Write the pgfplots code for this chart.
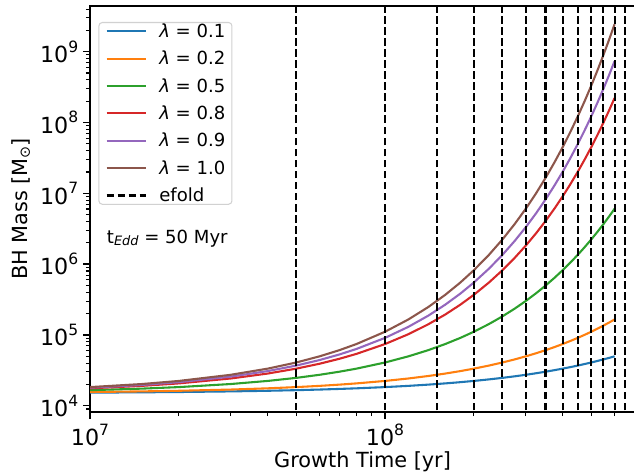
\documentclass[border=0pt]{standalone}
\usepackage{pgfplots}
\pgfplotsset{compat=1.18}
\usepackage{pgfplotstable}
\usepackage{fontspec}
\setmainfont{DejaVu Sans}
\definecolor{tabblue}{HTML}{1F77B4}
\definecolor{taborange}{HTML}{FF7F0E}
\definecolor{tabgreen}{HTML}{2CA02C}
\definecolor{tabred}{HTML}{D62728}
\definecolor{tabpurple}{HTML}{9467BD}
\definecolor{tabbrown}{HTML}{8C564B}
\newcommand{\sups}[1]{\raisebox{7.5pt}{\fontsize{11.2}{12}\selectfont #1}}
\newcommand{\subs}[1]{\raisebox{-2pt}{\fontsize{10.3}{11}\selectfont #1}}
\newcommand{\subt}[1]{\raisebox{-1.8pt}{\fontsize{9.3}{10}\selectfont #1}}
\newcommand{\legfont}{\fontsize{13}{15}\selectfont}

\pgfplotstableread{
t a b c d e f
1e7 1.530e4 1.561e4 1.658e4 1.760e4 1.796e4 1.832e4
1.5e7 1.546e4 1.593e4 1.743e4 1.907e4 1.965e4 2.025e4
2e7 1.561e4 1.625e4 1.832e4 2.066e4 2.150e4 2.238e4
3e7 1.593e4 1.691e4 2.025e4 2.424e4 2.574e4 2.733e4
4e7 1.625e4 1.760e4 2.238e4 2.845e4 3.082e4 3.338e4
5e7 1.658e4 1.832e4 2.473e4 3.338e4 3.689e4 4.077e4
6e7 1.691e4 1.907e4 2.733e4 3.918e4 4.417e4 4.980e4
7e7 1.726e4 1.985e4 3.021e4 4.597e4 5.288e4 6.083e4
8e7 1.760e4 2.066e4 3.338e4 5.395e4 6.331e4 7.430e4
1e8 1.832e4 2.238e4 4.077e4 7.430e4 9.074e4 1.108e5
1.2e8 1.907e4 2.424e4 4.980e4 1.023e5 1.301e5 1.653e5
1.4e8 1.985e4 2.626e4 6.083e4 1.409e5 1.864e5 2.467e5
1.6e8 2.066e4 2.845e4 7.430e4 1.940e5 2.672e5 3.680e5
1.8e8 2.150e4 3.082e4 9.074e4 2.672e5 3.830e5 5.490e5
2e8 2.238e4 3.338e4 1.108e5 3.680e5 5.490e5 8.190e5
2.25e8 2.353e4 3.689e4 1.423e5 5.490e5 8.610e5 1.350e6
2.5e8 2.473e4 4.077e4 1.827e5 8.190e5 1.350e6 2.226e6
2.75e8 2.600e4 4.506e4 2.346e5 1.222e6 2.118e6 3.670e6
3e8 2.733e4 4.980e4 3.013e5 1.823e6 3.321e6 6.051e6
3.25e8 2.873e4 5.504e4 3.869e5 2.719e6 5.209e6 9.977e6
3.5e8 3.021e4 6.083e4 4.967e5 4.056e6 8.169e6 1.645e7
3.75e8 3.176e4 6.723e4 6.378e5 6.051e6 1.281e7 2.712e7
4e8 3.338e4 7.430e4 8.190e5 9.028e6 2.009e7 4.471e7
4.25e8 3.509e4 8.211e4 1.052e6 1.347e7 3.151e7 7.372e7
4.5e8 3.689e4 9.074e4 1.350e6 2.009e7 4.942e7 1.215e8
4.75e8 3.879e4 1.003e5 1.734e6 2.997e7 7.750e7 2.004e8
5e8 4.077e4 1.108e5 2.226e6 4.471e7 1.215e8 3.304e8
5.25e8 4.287e4 1.225e5 2.858e6 6.671e7 1.906e8 5.447e8
5.5e8 4.506e4 1.354e5 3.670e6 9.951e7 2.990e8 8.981e8
5.75e8 4.737e4 1.496e5 4.713e6 1.485e8 4.689e8 1.481e9
6e8 4.980e4 1.653e5 6.051e6 2.215e8 7.353e8 2.441e9
}\bhdata

\begin{document}
\begin{tikzpicture}
\path[use as bounding box] (0,0) rectangle (456.48pt,340.56pt);
\begin{axis}[
  at={(64.8pt,43.92pt)}, anchor=south west,
  scale only axis, width=392.4pt, height=292.32pt,
  xmode=log, ymode=log,
  xmin=1e7, xmax=7.04e8, ymin=8.15e3, ymax=4.42e9,
  xtick={1e7,1e8}, xticklabels={10\sups{7},10\sups{8}},
  ytick={1e4,1e5,1e6,1e7,1e8,1e9},
  yticklabels={10\sups{4},10\sups{5},10\sups{6},10\sups{7},10\sups{8},10\sups{9}},
  minor xtick={2e7,3e7,4e7,5e7,6e7,7e7,8e7,9e7,2e8,3e8,4e8,5e8,6e8,7e8},
  minor ytick={9e3,2e4,3e4,4e4,5e4,6e4,7e4,8e4,9e4,2e5,3e5,4e5,5e5,6e5,7e5,8e5,9e5,2e6,3e6,4e6,5e6,6e6,7e6,8e6,9e6,2e7,3e7,4e7,5e7,6e7,7e7,8e7,9e7,2e8,3e8,4e8,5e8,6e8,7e8,8e8,9e8,2e9,3e9,4e9},
  tick pos=left, tick align=outside,
  major tick length=5pt, minor tick length=3pt,
  every major tick/.append style={line width=1.1pt, black},
  every minor tick/.append style={line width=0.8pt, black},
  axis line style={line width=1.6pt},
  ticklabel style={font=\fontsize{16}{19}\selectfont},
  label style={font=\fontsize{15}{18}\selectfont},
  xlabel={Growth Time [yr]},
  ylabel={BH Mass [M\subs{⊙}]},
  xlabel style={at={(axis description cs:0.5,-0.1379)}, anchor=base},
  ylabel style={at={(axis description cs:-0.1156,0.5)}, anchor=base},
  legend style={at={(0,1)}, anchor=north west, xshift=6pt, yshift=-11.5pt,
    draw=black!18, line width=0.75pt, rounded corners=2.5pt,
    fill=white, fill opacity=0.8, text opacity=1,
    font=\legfont,
    inner xsep=4.8pt, inner ysep=0.5pt, column sep=8.9pt, row sep=8pt,
    nodes={inner sep=0pt, text height=10.25pt, text depth=1.45pt, font=\legfont}},
  legend cell align=left,
  legend image code/.code={\draw[#1, line width=1.5pt] (0pt,0pt) -- (28.3pt,0pt);},
]
\addplot[tabblue, line width=1.5pt] table[x=t,y=a]{\bhdata};
\addlegendentry{\textit{λ} = 0.1}
\addplot[taborange, line width=1.5pt] table[x=t,y=b]{\bhdata};
\addlegendentry{\textit{λ} = 0.2}
\addplot[tabgreen, line width=1.5pt] table[x=t,y=c]{\bhdata};
\addlegendentry{\textit{λ} = 0.5}
\addplot[tabred, line width=1.5pt] table[x=t,y=d]{\bhdata};
\addlegendentry{\textit{λ} = 0.8}
\addplot[tabpurple, line width=1.5pt] table[x=t,y=e]{\bhdata};
\addlegendentry{\textit{λ} = 0.9}
\addplot[tabbrown, line width=1.5pt] table[x=t,y=f]{\bhdata};
\addlegendentry{\textit{λ} = 1.0}
\pgfplotsset{efold/.style={black, line width=1.5pt, dash pattern=on 5.55pt off 2.4pt}}
\addplot[efold] coordinates {(5e7,1e3) (5e7,1e10)};
\addlegendentry{efold}
\addplot[efold, forget plot] coordinates {(1e8,1e3) (1e8,1e10)};
\addplot[efold, forget plot] coordinates {(1.5e8,1e3) (1.5e8,1e10)};
\addplot[efold, forget plot] coordinates {(2e8,1e3) (2e8,1e10)};
\addplot[efold, forget plot] coordinates {(2.5e8,1e3) (2.5e8,1e10)};
\addplot[efold, forget plot] coordinates {(3e8,1e3) (3e8,1e10)};
\addplot[efold, forget plot] coordinates {(3.5e8,1e3) (3.5e8,1e10)};
\addplot[efold, forget plot] coordinates {(4e8,1e3) (4e8,1e10)};
\addplot[efold, forget plot] coordinates {(4.5e8,1e3) (4.5e8,1e10)};
\addplot[efold, forget plot] coordinates {(5e8,1e3) (5e8,1e10)};
\addplot[efold, forget plot] coordinates {(5.5e8,1e3) (5.5e8,1e10)};
\addplot[efold, forget plot] coordinates {(6e8,1e3) (6e8,1e10)};
\addplot[efold, forget plot] coordinates {(6.5e8,1e3) (6.5e8,1e10)};
\node[anchor=base west, font=\fontsize{13}{16}\selectfont] at (rel axis cs:0.022,0.4155) {t\subt{\textit{Edd}} = 50 Myr};
\end{axis}
\end{tikzpicture}
\end{document}
